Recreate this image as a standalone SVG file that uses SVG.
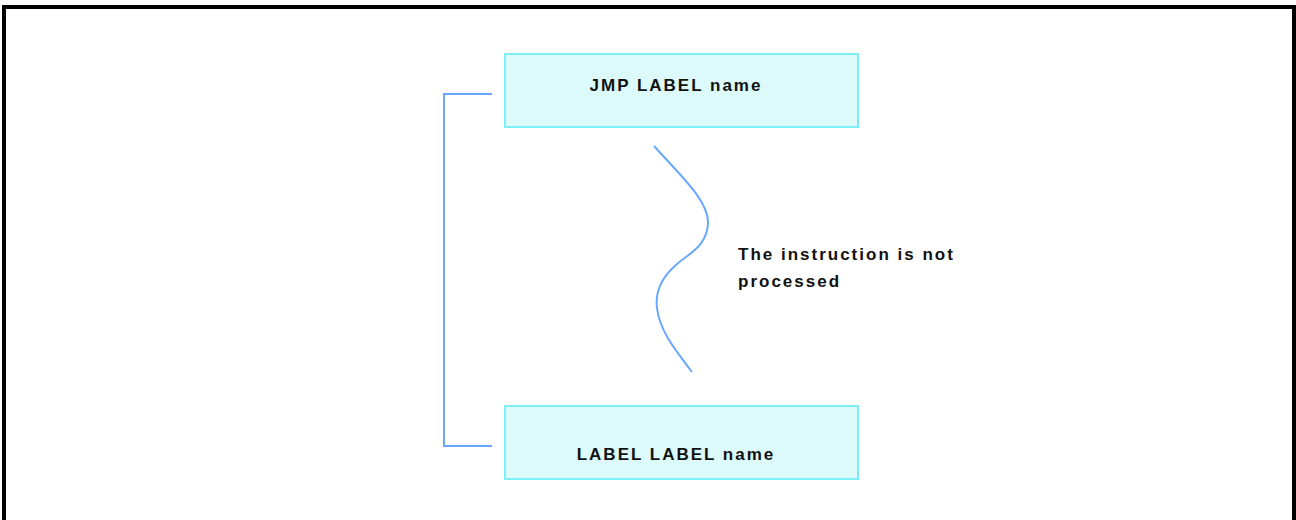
<svg xmlns="http://www.w3.org/2000/svg" width="1296" height="520" viewBox="0 0 1296 520">
<style>
.box{fill:#dcfafa;stroke:#7eeef6;stroke-width:2}
.lbl{font-family:"Liberation Sans",Arial,sans-serif;font-weight:bold;font-size:17px;letter-spacing:2px;fill:#111}
.conn{fill:none;stroke:#6aa8ff;stroke-width:2}
</style>
<rect x="0" y="0" width="1296" height="520" fill="#fff"/>
<rect x="4" y="7" width="1290" height="530" fill="none" stroke="#000" stroke-width="4"/>
<g id="connectors">
<path class="conn" d="M492,94 H444 V446 H492"/>
<path class="conn" d="M654,146 C680,175 708,200 708,222 C708,246 688,254 676,265 C661,278 655,292 657,308 C660,333 678,353 692,372"/>
</g>
<g id="node-jmp">
<rect class="box" x="505" y="54" width="353" height="73"/>
<text class="lbl" x="676" y="91" text-anchor="middle">JMP LABEL name</text>
</g>
<g id="node-label">
<rect class="box" x="505" y="406" width="353" height="73"/>
<text class="lbl" x="676" y="460" text-anchor="middle">LABEL LABEL name</text>
</g>
<g id="note">
<text class="lbl" x="738" y="260">The instruction is not</text>
<text class="lbl" x="738" y="287">processed</text>
</g>
</svg>
